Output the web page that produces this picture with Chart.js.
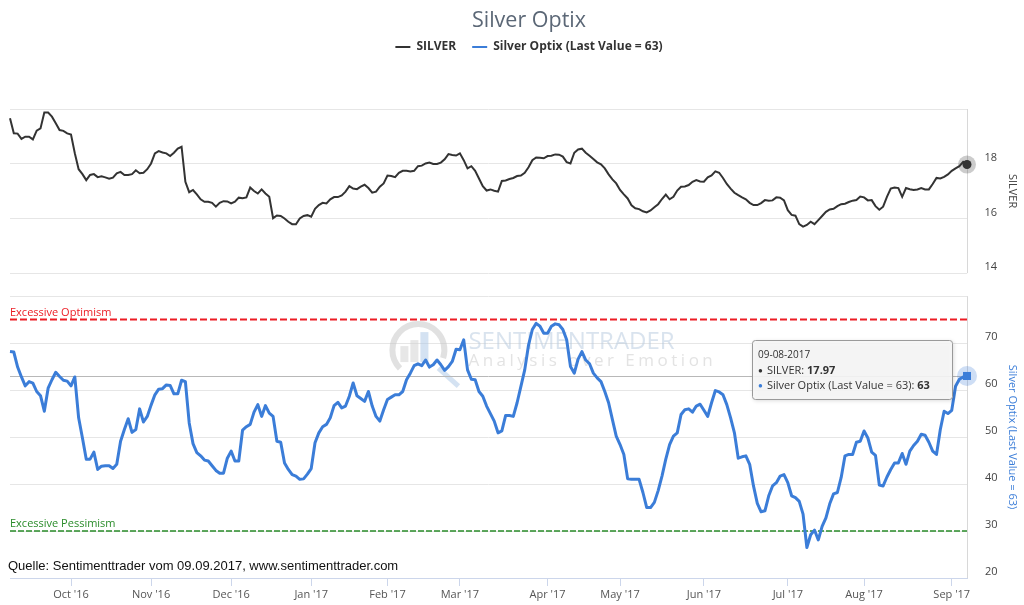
<!DOCTYPE html>
<html>
<head>
<meta charset="utf-8">
<title>Silver Optix</title>
<script src="https://cdn.jsdelivr.net/npm/chart.js@4.4.0/dist/chart.umd.min.js"></script>
<style>
  html, body { margin: 0; padding: 0; background: #fff; }
  #wrap { width: 1024px; height: 605px; }
</style>
</head>
<body>
<div id="wrap"><canvas id="chart-area" width="1024" height="605"></canvas></div>
<script>
'use strict';

// daily closes, 09-09-2016 .. 09-08-2017 (trading days)
var silver = [
   19.66, 19.11, 19.10, 18.91, 18.99, 18.99, 18.89, 19.21, 19.29, 19.87,
   19.87, 19.72, 19.48, 19.23, 19.20, 19.11, 19.07, 18.38, 17.80, 17.62,
   17.40, 17.59, 17.62, 17.51, 17.54, 17.50, 17.45, 17.49, 17.65, 17.70,
   17.59, 17.59, 17.62, 17.76, 17.65, 17.67, 17.80, 18.01, 18.38, 18.46,
   18.41, 18.38, 18.28, 18.40, 18.55, 18.62, 17.34, 16.96, 17.04, 16.88,
   16.70, 16.61, 16.61, 16.57, 16.43, 16.57, 16.63, 16.62, 16.55, 16.61,
   16.76, 16.74, 16.77, 17.13, 17.00, 16.91, 17.06, 16.91, 16.79, 16.01,
   16.11, 16.09, 16.00, 15.88, 15.79, 15.79, 16.00, 16.09, 16.12, 16.06,
   16.35, 16.49, 16.57, 16.55, 16.70, 16.78, 16.78, 16.84, 16.98, 17.18,
   17.09, 17.07, 17.16, 17.23, 17.11, 16.94, 16.98, 17.16, 17.28, 17.57,
   17.55, 17.51, 17.67, 17.74, 17.74, 17.72, 17.74, 17.91, 17.93, 18.01,
   18.04, 17.99, 17.99, 18.04, 18.16, 18.35, 18.32, 18.30, 18.38, 18.13,
   17.83, 17.91, 17.74, 17.46, 17.18, 17.02, 17.06, 17.01, 16.98, 17.37,
   17.39, 17.44, 17.48, 17.55, 17.57, 17.67, 17.87, 18.13, 18.23, 18.22,
   18.20, 18.28, 18.29, 18.34, 18.33, 18.26, 18.06, 18.01, 18.40, 18.52,
   18.55, 18.40, 18.29, 18.17, 18.05, 17.98, 17.83, 17.61, 17.43, 17.28,
   17.04, 16.88, 16.73, 16.48, 16.37, 16.34, 16.26, 16.22, 16.29, 16.41,
   16.52, 16.71, 16.87, 16.70, 16.79, 17.02, 17.16, 17.17, 17.22, 17.34,
   17.40, 17.35, 17.34, 17.50, 17.57, 17.72, 17.67, 17.48, 17.26, 17.09,
   16.94, 16.85, 16.77, 16.70, 16.57, 16.49, 16.49, 16.56, 16.67, 16.65,
   16.66, 16.77, 16.76, 16.66, 16.30, 16.13, 16.10, 15.79, 15.70, 15.76,
   15.88, 15.79, 15.94, 16.09, 16.24, 16.33, 16.35, 16.45, 16.52, 16.54,
   16.60, 16.65, 16.67, 16.80, 16.77, 16.66, 16.67, 16.45, 16.32, 16.43,
   16.79, 17.09, 17.13, 17.11, 16.79, 17.11, 17.07, 17.04, 17.06, 17.11,
   17.06, 17.06, 17.26, 17.48, 17.46, 17.52, 17.61, 17.74, 17.83, 17.91,
   18.07, 17.97
];

var optix = [
   68.2, 68.1, 64.9, 62.8, 60.9, 61.8, 61.5, 59.7, 58.8, 55.5,
   60.4, 62.2, 63.8, 62.9, 62.1, 61.9, 60.9, 62.8, 54.1, 49.8,
   45.3, 45.3, 46.8, 43.1, 43.8, 43.9, 43.9, 43.3, 44.2, 49.1,
   51.6, 53.9, 51.0, 51.6, 56.0, 53.2, 54.4, 56.8, 59.0, 60.2,
   60.3, 61.1, 61.0, 59.2, 59.2, 62.1, 61.8, 53.0, 48.6, 46.7,
   46.0, 45.1, 44.9, 43.9, 42.9, 42.3, 42.3, 45.5, 47.0, 44.9,
   44.9, 51.5, 52.2, 52.7, 55.3, 56.9, 54.4, 56.7, 55.1, 54.4,
   49.1, 48.9, 44.5, 43.1, 42.0, 41.7, 41.0, 41.1, 42.1, 43.3,
   48.8, 50.9, 52.2, 52.7, 54.1, 56.7, 57.4, 56.2, 56.6, 58.7,
   61.5, 58.8, 58.2, 57.6, 59.7, 56.6, 54.4, 53.4, 55.8, 58.0,
   58.5, 59.0, 59.0, 59.7, 62.2, 63.6, 65.2, 65.6, 65.2, 66.4,
   64.9, 65.4, 66.4, 65.4, 64.2, 65.0, 66.1, 68.7, 68.6, 70.7,
   64.3, 62.3, 62.2, 59.7, 58.7, 56.6, 55.0, 53.4, 50.9, 51.3,
   54.6, 54.6, 54.4, 57.3, 60.8, 64.3, 69.6, 72.9, 74.2, 73.6,
   72.1, 72.1, 73.6, 74.1, 73.9, 72.9, 70.7, 65.0, 63.6, 66.6,
   68.2, 66.4, 65.6, 63.6, 62.6, 61.8, 59.7, 57.3, 53.7, 50.2,
   48.4, 46.3, 41.1, 41.0, 41.0, 41.0, 38.2, 35.0, 35.0, 36.1,
   38.6, 41.7, 45.3, 48.4, 50.2, 50.9, 54.8, 55.8, 56.0, 55.3,
   56.6, 57.0, 55.7, 54.4, 57.3, 59.9, 59.6, 59.0, 56.9, 54.1,
   50.9, 45.5, 45.8, 46.0, 44.2, 39.6, 35.9, 34.1, 34.3, 37.5,
   39.6, 40.3, 41.7, 42.0, 40.3, 37.5, 37.1, 36.3, 33.6, 26.5,
   29.2, 30.2, 28.1, 31.0, 32.8, 35.8, 37.9, 38.2, 41.4, 46.0,
   46.3, 46.3, 48.9, 49.1, 51.3, 49.8, 46.8, 46.1, 39.8, 39.6,
   41.5, 43.1, 44.5, 44.5, 46.5, 44.2, 47.0, 48.2, 49.1, 50.6,
   50.4, 48.9, 47.0, 46.3, 51.6, 55.5, 55.0, 55.7, 60.8, 62.3,
   62.8, 63
];

// first trading day of each month, as position in the series
var monthTicks = [16, 37, 58, 79, 99, 118, 141, 160, 182, 204, 224, 247];
var monthLabels = ["Oct '16", "Nov '16", "Dec '16", "Jan '17", "Feb '17", "Mar '17",
   "Apr '17", "May '17", "Jun '17", "Jul '17", "Aug '17", "Sep '17"];
var silverTicks = [14, 16, 18, 20];
var optixTicks = [20, 30, 40, 50, 60, 70, 80];
var optimismLevel = 75;
var pessimismLevel = 30;
var lastDate = '09-08-2017';
var seriesNames = ['SILVER', 'Silver Optix (Last Value = 63)'];

var silverColor = '#333333';
var optixColor = '#3b7dd8';
var font = '"Open Sans", sans-serif';

// each y axis spans the whole plot; its range is stretched so the data sits in its own panel
function panelRange(lo, hi, fromFrac, toFrac) {
   var span = (hi - lo) / (toFrac - fromFrac);
   var max = hi + fromFrac * span;
   return { min: max - span, max: max };
}
var silverRange = panelRange(14, 20, 0, 0.35);
var optixRange = panelRange(20, 80, 0.399, 1);

var days = silver.map(function (v, i) { return i; });
var lastIdx = silver.length - 1;

function onlyLast(r) {
   return function (ctx) { return ctx.dataIndex === lastIdx ? r : 0; };
}

var panels = {
   id: 'panels',
   beforeDatasetsDraw: function (chart) {
      var ctx = chart.ctx, area = chart.chartArea;
      var ys = chart.scales.ySilver, yo = chart.scales.yOptix;
      ctx.save();

      // watermark
      var tx = area.left + 0.479 * area.width;
      var ty = area.top + 0.497 * area.height;
      ctx.globalAlpha = 0.5;
      ctx.strokeStyle = '#c4c4c4';
      ctx.lineWidth = 6;
      ctx.beginPath();
      ctx.arc(tx - 50, ty + 8, 26, Math.PI * 0.75, Math.PI * 2.1);
      ctx.stroke();
      ctx.fillStyle = '#cfcfcf';
      ctx.fillRect(tx - 68, ty + 4, 8, 16);
      ctx.fillRect(tx - 58, ty - 2, 8, 22);
      ctx.fillStyle = '#a9c6e6';
      ctx.fillRect(tx - 48, ty - 10, 8, 30);
      ctx.strokeStyle = '#a9c6e6';
      ctx.lineWidth = 5;
      ctx.beginPath();
      ctx.moveTo(tx - 30, ty + 26);
      ctx.lineTo(tx - 10, ty + 44);
      ctx.stroke();
      ctx.fillStyle = '#b4c8de';
      ctx.font = '24px ' + font;
      ctx.textBaseline = 'middle';
      ctx.textAlign = 'left';
      ctx.fillText('SENTIMENTRADER', tx, ty);
      ctx.fillStyle = '#c8c8c8';
      ctx.font = '17px ' + font;
      ctx.letterSpacing = '3.5px';
      ctx.fillText('Analysis over Emotion', tx, area.top + 0.537 * area.height);
      ctx.letterSpacing = '0px';
      ctx.globalAlpha = 1;

      // right border of each panel
      var bx = Math.round(area.right) + 0.5;
      ctx.strokeStyle = '#d8d8d8';
      ctx.lineWidth = 1;
      ctx.beginPath();
      ctx.moveTo(bx, ys.getPixelForValue(silverTicks[silverTicks.length - 1]));
      ctx.lineTo(bx, ys.getPixelForValue(silverTicks[0]));
      ctx.moveTo(bx, yo.getPixelForValue(optixTicks[optixTicks.length - 1]));
      ctx.lineTo(bx, yo.getPixelForValue(optixTicks[0]));
      ctx.stroke();

      // crosshair at the hovered Optix value
      var cy = Math.round(yo.getPixelForValue(optix[lastIdx])) + 0.5;
      ctx.strokeStyle = '#b8b8b8';
      ctx.beginPath();
      ctx.moveTo(area.left, cy);
      ctx.lineTo(area.right, cy);
      ctx.stroke();

      // sentiment bands
      function level(v, color, dash, width, label) {
         var y = yo.getPixelForValue(v);
         ctx.strokeStyle = color;
         ctx.lineWidth = width;
         ctx.setLineDash(dash);
         ctx.beginPath();
         ctx.moveTo(area.left, y);
         ctx.lineTo(area.right, y);
         ctx.stroke();
         ctx.setLineDash([]);
         ctx.fillStyle = color;
         ctx.font = '11px ' + font;
         ctx.textBaseline = 'alphabetic';
         ctx.fillText(label, area.left, y - 4);
      }
      level(optimismLevel, '#ec1c24', [7, 3], 2, 'Excessive Optimism');
      level(pessimismLevel, '#2a8c2a', [6, 2], 1.5, 'Excessive Pessimism');

      // halos behind the hovered points
      var ps = chart.getDatasetMeta(0).data[lastIdx];
      var po = chart.getDatasetMeta(1).data[lastIdx];
      ctx.fillStyle = 'rgba(51,51,51,0.25)';
      ctx.beginPath();
      ctx.arc(ps.x, ps.y, 9, 0, Math.PI * 2);
      ctx.fill();
      ctx.fillStyle = 'rgba(59,125,216,0.25)';
      ctx.beginPath();
      ctx.arc(po.x, po.y, 10, 0, Math.PI * 2);
      ctx.fill();
      ctx.restore();
   },
   afterDraw: function (chart) {
      var ctx = chart.ctx, area = chart.chartArea;
      var ys = chart.scales.ySilver, yo = chart.scales.yOptix;
      var cx = chart.width / 2 + 17;
      ctx.save();

      // title
      ctx.fillStyle = '#5b6776';
      ctx.font = '21.5px ' + font;
      ctx.textAlign = 'center';
      ctx.textBaseline = 'middle';
      ctx.fillText('Silver Optix', cx, 21);

      // legend
      ctx.font = 'bold 12px ' + font;
      ctx.textAlign = 'left';
      var colors = [silverColor, optixColor];
      var total = 0;
      seriesNames.forEach(function (n) { total += 21 + ctx.measureText(n).width; });
      total += 16 * (seriesNames.length - 1);
      var lx = cx - total / 2;
      seriesNames.forEach(function (n, i) {
         ctx.strokeStyle = colors[i];
         ctx.lineWidth = 2;
         ctx.beginPath();
         ctx.moveTo(lx, 47);
         ctx.lineTo(lx + 15, 47);
         ctx.stroke();
         ctx.fillStyle = '#333333';
         ctx.fillText(n, lx + 21, 47);
         lx += 21 + ctx.measureText(n).width + 16;
      });

      // axis titles, rotated, one per panel
      function axisTitle(text, color, yMid) {
         ctx.save();
         ctx.translate(chart.width - 12, yMid);
         ctx.rotate(Math.PI / 2);
         ctx.fillStyle = color;
         ctx.font = '11px ' + font;
         ctx.textAlign = 'center';
         ctx.textBaseline = 'middle';
         ctx.fillText(text, 0, 0);
         ctx.restore();
      }
      axisTitle(seriesNames[0], '#444444',
         (ys.getPixelForValue(silverTicks[0]) + ys.getPixelForValue(silverTicks[silverTicks.length - 1])) / 2);
      axisTitle(seriesNames[1], optixColor,
         (yo.getPixelForValue(optixTicks[0]) + yo.getPixelForValue(optixTicks[optixTicks.length - 1])) / 2);

      // source note
      ctx.fillStyle = '#111111';
      ctx.font = '13px "Liberation Sans", Arial, sans-serif';
      ctx.textAlign = 'left';
      ctx.textBaseline = 'middle';
      ctx.fillText('Quelle: Sentimenttrader vom 09.09.2017, www.sentimenttrader.com', 8, 566);

      // tooltip for the last day
      var po = chart.getDatasetMeta(1).data[lastIdx];
      var bw = 200, bh = 59;
      var bx = po.x - 15 - bw, by = po.y - 36;
      ctx.shadowColor = 'rgba(0,0,0,0.18)';
      ctx.shadowBlur = 4;
      ctx.shadowOffsetX = 1;
      ctx.shadowOffsetY = 1;
      ctx.fillStyle = 'rgba(247,247,247,0.9)';
      ctx.beginPath();
      ctx.roundRect(bx + 0.5, by + 0.5, bw, bh, 3);
      ctx.fill();
      ctx.shadowColor = 'transparent';
      ctx.strokeStyle = '#999999';
      ctx.lineWidth = 1;
      ctx.stroke();

      ctx.textAlign = 'left';
      ctx.textBaseline = 'middle';
      ctx.fillStyle = '#333333';
      ctx.font = '10px ' + font;
      ctx.fillText(lastDate, bx + 6, by + 15);
      var rows = [
         { name: seriesNames[0], value: silver[lastIdx].toFixed(2), color: silverColor },
         { name: seriesNames[1], value: String(optix[lastIdx]), color: optixColor }
      ];
      rows.forEach(function (r, i) {
         var y = by + 31 + i * 15;
         var x = bx + 6;
         ctx.fillStyle = r.color;
         ctx.font = '8px ' + font;
         ctx.fillText('\u25CF', x, y);
         x += 9;
         ctx.fillStyle = '#333333';
         ctx.font = '11px ' + font;
         var t = r.name + ': ';
         ctx.fillText(t, x, y);
         x += ctx.measureText(t).width;
         ctx.font = 'bold 11px ' + font;
         ctx.fillText(r.value, x, y);
      });
      ctx.restore();
   }
};

var ctx = document.getElementById('chart-area').getContext('2d');
window.optixChart = new Chart(ctx, {
   type: 'line',
   data: {
      labels: days,
      datasets: [{
         label: seriesNames[0],
         data: silver,
         yAxisID: 'ySilver',
         borderColor: silverColor,
         backgroundColor: silverColor,
         borderWidth: 2,
         pointRadius: onlyLast(4.5),
         pointBorderWidth: 0,
         pointStyle: 'circle',
         tension: 0,
         clip: false
      }, {
         label: seriesNames[1],
         data: optix,
         yAxisID: 'yOptix',
         borderColor: optixColor,
         backgroundColor: optixColor,
         borderWidth: 3,
         borderJoinStyle: 'round',
         pointRadius: onlyLast(5.7),
         pointBorderWidth: 0,
         pointStyle: 'rect',
         tension: 0,
         clip: false
      }]
   },
   options: {
      responsive: false,
      animation: false,
      events: [],
      layout: { padding: { top: 109, left: 10, right: 0, bottom: 0 } },
      plugins: {
         legend: { display: false },
         title: { display: false },
         tooltip: { enabled: false }
      },
      scales: {
         x: {
            type: 'linear',
            min: 0,
            max: lastIdx,
            afterBuildTicks: function (axis) {
               axis.ticks = monthTicks.map(function (v) { return { value: v }; });
            },
            afterFit: function (axis) { axis.height = 27; },
            ticks: {
               autoSkip: false,
               maxRotation: 0,
               minRotation: 0,
               padding: 2,
               color: '#555555',
               font: { family: font, size: 11 },
               callback: function (v) { return monthLabels[monthTicks.indexOf(v)]; }
            },
            grid: { drawOnChartArea: false, drawTicks: true, tickLength: 8, color: '#ccd6eb' },
            border: { display: true, color: '#ccd6eb' }
         },
         ySilver: {
            type: 'linear',
            position: 'right',
            weight: 0,
            min: silverRange.min,
            max: silverRange.max,
            afterBuildTicks: function (axis) {
               axis.ticks = silverTicks.map(function (v) { return { value: v }; });
            },
            // zero-width axis sharing the outer label column; mirror keeps labels unclipped
            afterFit: function (axis) {
               axis.width = 0;
               axis.paddingTop = 0;
               axis.paddingBottom = 0;
            },
            ticks: {
               mirror: true,
               padding: 30,
               labelOffset: -6,
               color: '#444444',
               font: { family: font, size: 11 },
               callback: function (v) { return v === silverTicks[silverTicks.length - 1] ? '' : v; }
            },
            grid: { drawTicks: false, color: '#e6e6e6' },
            border: { display: false }
         },
         yOptix: {
            type: 'linear',
            position: 'right',
            weight: 1,
            min: optixRange.min,
            max: optixRange.max,
            afterBuildTicks: function (axis) {
               axis.ticks = optixTicks.map(function (v) { return { value: v }; });
            },
            afterFit: function (axis) {
               axis.width = 57;
               axis.paddingTop = 0;
               axis.paddingBottom = 0;
            },
            ticks: {
               padding: 18,
               labelOffset: -6,
               color: '#444444',
               font: { family: font, size: 11 },
               callback: function (v) { return v === optixTicks[optixTicks.length - 1] ? '' : v; }
            },
            grid: { drawTicks: false, color: '#e6e6e6' },
            border: { display: false }
         }
      }
   },
   plugins: [panels]
});
</script>
</body>
</html>
